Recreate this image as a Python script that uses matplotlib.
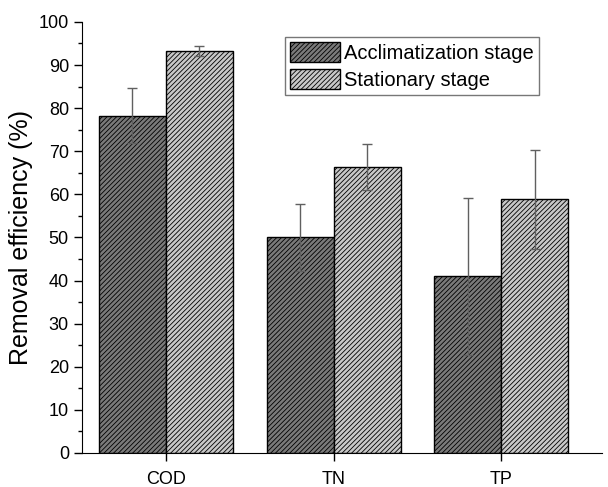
import numpy as np
import matplotlib.pyplot as plt
from matplotlib.ticker import MultipleLocator

plt.rcParams['font.family'] = ['Liberation Sans', 'DejaVu Sans']
plt.rcParams['hatch.linewidth'] = 0.6

categories = ['COD', 'TN', 'TP']
acclim = [78.2, 50.0, 41.0]
acclim_err = [6.4, 7.8, 18.2]
stationary = [93.2, 66.3, 58.8]
stationary_err = [1.2, 5.3, 11.4]

fig = plt.figure(figsize=(6.08, 4.87), dpi=100)
ax = fig.add_axes([0.135, 0.07, 0.855, 0.885])

x = np.arange(len(categories))
w = 0.4
err_kw = dict(ecolor='#606060', elinewidth=1.0, capsize=3.5, capthick=1.0, zorder=5)
ax.bar(x - w / 2, acclim, w, yerr=acclim_err, color='#7a7a7a', edgecolor='black',
       linewidth=1.0, hatch='///////', label='Acclimatization stage', error_kw=err_kw)
ax.bar(x + w / 2, stationary, w, yerr=stationary_err, color='#c8c8c8', edgecolor='black',
       linewidth=1.0, hatch='///////', label='Stationary stage', error_kw=err_kw)

ax.set_xlim(-0.5, 2.6)
ax.set_ylim(0, 100)
ax.set_xticks(x)
ax.set_xticklabels(categories, fontsize=13)
ax.yaxis.set_major_locator(MultipleLocator(10))
ax.yaxis.set_minor_locator(MultipleLocator(5))
ax.tick_params(axis='y', which='major', direction='out', length=6, width=1, labelsize=13)
ax.tick_params(axis='y', which='minor', direction='out', length=3, width=1)
ax.tick_params(axis='x', direction='out', length=6, width=1, pad=7)
ax.set_ylabel('Removal efficiency (%)', fontsize=18, labelpad=4)
ax.spines['top'].set_visible(False)
ax.spines['right'].set_visible(False)

ax.legend(loc='upper left', bbox_to_anchor=(0.39, 0.965), fontsize=14.5, frameon=True,
          fancybox=False, edgecolor='#555555', handlelength=2.5, handleheight=1.15,
          handletextpad=0.2, borderpad=0.25, labelspacing=0.3, borderaxespad=0)

fig.savefig('out.png', dpi=100)
